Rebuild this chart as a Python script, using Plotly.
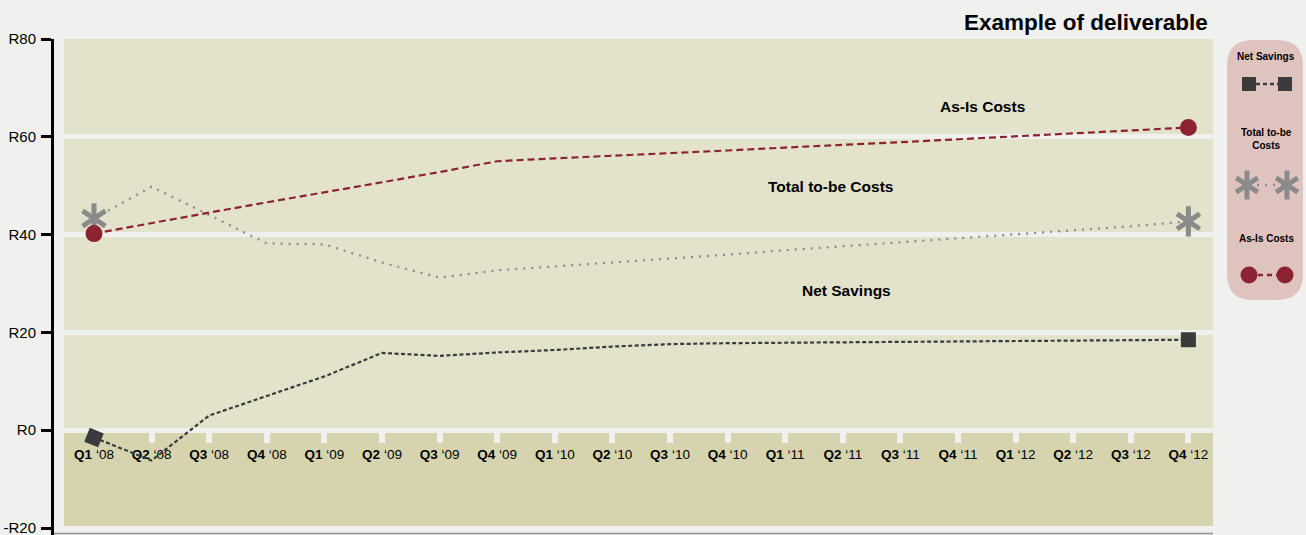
import plotly.graph_objects as go

# ---------------- data ----------------
quarters = ["Q1 '08", "Q2 '08", "Q3 '08", "Q4 '08", "Q1 '09", "Q2 '09", "Q3 '09", "Q4 '09",
            "Q1 '10", "Q2 '10", "Q3 '10", "Q4 '10", "Q1 '11", "Q2 '11", "Q3 '11", "Q4 '11",
            "Q1 '12", "Q2 '12", "Q3 '12", "Q4 '12"]
quarter_num = ["Q1", "Q2", "Q3", "Q4", "Q1", "Q2", "Q3", "Q4",
               "Q1", "Q2", "Q3", "Q4", "Q1", "Q2", "Q3", "Q4",
               "Q1", "Q2", "Q3", "Q4"]
quarter_year = ["08", "08", "08", "08", "09", "09", "09", "09",
                "10", "10", "10", "10", "11", "11", "11", "11",
                "12", "12", "12", "12"]

net_savings = [-1.5, -6.2, 3.0, 7.0, 11.0, 15.8, 15.2, 15.9,
               16.4, 17.1, 17.6, 17.8, 17.9, 18.0, 18.0, 18.1,
               18.2, 18.3, 18.4, 18.5]
total_to_be = [43.3, 49.8, 44.0, 38.2, 38.0, 34.3, 31.2, 32.7,
               33.5, 34.3, 35.0, 35.9, 36.8, 37.6, 38.4, 39.2,
               40.0, 40.9, 41.7, 42.7]
as_is = [40.2, 42.4, 44.5, 46.6, 48.6, 50.7, 52.8, 55.0,
         55.6, 56.1, 56.7, 57.2, 57.8, 58.3, 58.9, 59.5,
         60.1, 60.7, 61.3, 61.9]

y_ticks = [-20, 0, 20, 40, 60, 80]
y_tick_labels = ["-R20", "R0", "R20", "R40", "R60", "R80"]

# ---------------- style ----------------
FONT = "Liberation Sans, Arial, Helvetica, sans-serif"
PAGE_BG = "#f0f1ef"
BAND_LIGHT = "#e3e3cb"
BAND_DARK = "#d5d4ae"
LEGEND_BG = "#dfc3bf"
RED = "#8b2331"
DARK = "#3b3b3e"
GRAY = "#8a8a8a"

W, H = 1306, 535
ML, MR, MT, MB = 54, 0, 39, 0
plot_w = W - ML - MR
plot_h = H - MT - MB
main_right_px = 1213
x_domain_end = (main_right_px - ML) / plot_w

PX_PER_UNIT = 4.89
Y_MAX = 80.0
Y_MIN = Y_MAX - plot_h / PX_PER_UNIT

# pixel helpers for the legend subplot (non-data decoration)
def px_to_paper_x(px):
    return (px - ML) / plot_w

def px_to_paper_y(py):
    return (H - MB - py) / plot_h

tick_text = [f"<b>{q}</b> \u2018{y}" for q, y in zip(quarter_num, quarter_year)]
idx = list(range(len(quarters)))

fig = go.Figure()

# Net Savings
fig.add_trace(go.Scatter(
    x=idx, y=net_savings, mode="lines",
    line=dict(color=DARK, width=2.2, dash="4px,2.5px"),
    hoverinfo="skip", showlegend=False))
fig.add_trace(go.Scatter(
    x=[idx[0], idx[-1]], y=[net_savings[0], net_savings[-1]], mode="markers",
    marker=dict(symbol="square", size=15, color=DARK, angle=[22, 0],
                line=dict(width=0)),
    hoverinfo="skip", showlegend=False))

# Total to-be Costs
fig.add_trace(go.Scatter(
    x=idx, y=total_to_be, mode="lines",
    line=dict(color=GRAY, width=2.2, dash="2px,6px"),
    hoverinfo="skip", showlegend=False))
for sym in ["y-up-open", "y-down-open"]:
    fig.add_trace(go.Scatter(
        x=[idx[0], idx[-1]], y=[total_to_be[0], total_to_be[-1]], mode="markers",
        marker=dict(symbol=sym, size=19, color=GRAY,
                    line=dict(color=GRAY, width=5)),
        hoverinfo="skip", showlegend=False))

# As-Is Costs
fig.add_trace(go.Scatter(
    x=idx, y=as_is, mode="lines",
    line=dict(color=RED, width=2.2, dash="7px,4px"),
    hoverinfo="skip", showlegend=False))
fig.add_trace(go.Scatter(
    x=[idx[0], idx[-1]], y=[as_is[0], as_is[-1]], mode="markers",
    marker=dict(symbol="circle", size=17, color=RED, line=dict(width=0)),
    hoverinfo="skip", showlegend=False))

# ---------------- custom legend (glyphs on a small helper subplot) ----------------
leg_rows = [
    ("Net Savings", 84, dict(symbol="square", size=14, color=DARK), DARK, "4px,3px"),
    ("Total to-be Costs", 185, None, GRAY, "2px,6px"),
    ("As-Is Costs", 275, dict(symbol="circle", size=17, color=RED), RED, "5px,4px"),
]
leg_y0_px, leg_y1_px = 40, 300
leg_x0_px, leg_x1_px = 1227, 1303
glyph_left, glyph_right = 1249, 1285

def leg_y(py):
    return (leg_y1_px - py) / (leg_y1_px - leg_y0_px)

def leg_x(px):
    return (px - leg_x0_px) / (leg_x1_px - leg_x0_px)

for name, gy, mk, lc, dash in leg_rows:
    xs = [leg_x(glyph_left), leg_x(glyph_right)]
    ys = [leg_y(gy), leg_y(gy)]
    fig.add_trace(go.Scatter(x=xs, y=ys, mode="lines", xaxis="x2", yaxis="y2",
                             line=dict(color=lc, width=2.4, dash=dash),
                             hoverinfo="skip", showlegend=False))
    if mk is not None:
        fig.add_trace(go.Scatter(x=xs, y=ys, mode="markers", xaxis="x2", yaxis="y2",
                                 marker=dict(mk, line=dict(width=0)),
                                 hoverinfo="skip", showlegend=False))
    else:
        for sym in ["y-up-open", "y-down-open"]:
            fig.add_trace(go.Scatter(
                x=[leg_x(1247), leg_x(1287)], y=ys, mode="markers", xaxis="x2", yaxis="y2",
                marker=dict(symbol=sym, size=18, color=GRAY, line=dict(color=GRAY, width=5)),
                hoverinfo="skip", showlegend=False))

# ---------------- shapes ----------------
shapes = [
    dict(type="rect", xref="paper", yref="y", layer="below",
         x0=10 / plot_w, x1=x_domain_end, y0=0, y1=80,
         fillcolor=BAND_LIGHT, line=dict(width=0)),
    dict(type="rect", xref="paper", yref="y", layer="below",
         x0=10 / plot_w, x1=x_domain_end, y0=-20, y1=0,
         fillcolor=BAND_DARK, line=dict(width=0)),
    dict(type="line", xref="paper", yref="paper", layer="above",
         x0=0, x1=x_domain_end, y0=px_to_paper_y(533.5), y1=px_to_paper_y(533.5),
         line=dict(color="#8e8e8e", width=1.5)),
]
# rounded legend box
r = 26
lx0, lx1 = px_to_paper_x(leg_x0_px), px_to_paper_x(leg_x1_px)
ly_top, ly_bot = px_to_paper_y(leg_y0_px), px_to_paper_y(leg_y1_px)
rx = r / plot_w
ry = r / plot_h
path = (f"M {lx0+rx},{ly_top} L {lx1-rx},{ly_top} Q {lx1},{ly_top} {lx1},{ly_top-ry} "
        f"L {lx1},{ly_bot+ry} Q {lx1},{ly_bot} {lx1-rx},{ly_bot} "
        f"L {lx0+rx},{ly_bot} Q {lx0},{ly_bot} {lx0},{ly_bot+ry} "
        f"L {lx0},{ly_top-ry} Q {lx0},{ly_top} {lx0+rx},{ly_top} Z")
shapes.append(dict(type="path", path=path, xref="paper", yref="paper", layer="below",
                   fillcolor=LEGEND_BG, line=dict(width=0)))

# ---------------- annotations ----------------
ann = [
    dict(text="<b>Example of deliverable</b>", xref="paper", yref="paper",
         x=px_to_paper_x(1210), y=px_to_paper_y(22), xanchor="right", yanchor="middle",
         showarrow=False, font=dict(family=FONT, size=22.5, color="#000")),
    dict(text="<b>As-Is Costs</b>", xref="x", yref="y", x=15.43, y=66.1,
         xanchor="center", yanchor="middle",
         showarrow=False, font=dict(family=FONT, size=15.5, color="#000")),
    dict(text="<b>Total to-be Costs</b>", xref="x", yref="y", x=12.78, y=49.9,
         xanchor="center", yanchor="middle",
         showarrow=False, font=dict(family=FONT, size=15.5, color="#000")),
    dict(text="<b>Net Savings</b>", xref="x", yref="y", x=13.06, y=28.5,
         xanchor="center", yanchor="middle",
         showarrow=False, font=dict(family=FONT, size=15.5, color="#000")),
    dict(text="<b>Net Savings</b>", xref="paper", yref="paper",
         x=px_to_paper_x(1266), y=px_to_paper_y(57), showarrow=False,
         xanchor="center", yanchor="middle", font=dict(family=FONT, size=10, color="#000")),
    dict(text="<b>Total to-be<br>Costs</b>", xref="paper", yref="paper",
         x=px_to_paper_x(1266), y=px_to_paper_y(139), showarrow=False,
         xanchor="center", yanchor="middle", font=dict(family=FONT, size=10, color="#000")),
    dict(text="<b>As-Is Costs</b>", xref="paper", yref="paper",
         x=px_to_paper_x(1266), y=px_to_paper_y(238), showarrow=False,
         xanchor="center", yanchor="middle", font=dict(family=FONT, size=10, color="#000")),
]

x_pad_left = (94 - ML) / 57.6
x_range = [-x_pad_left, -x_pad_left + (main_right_px - ML) / 57.6]

fig.update_layout(
    width=W, height=H,
    margin=dict(l=ML, r=MR, t=MT, b=MB, pad=0),
    paper_bgcolor=PAGE_BG, plot_bgcolor=PAGE_BG,
    font=dict(family=FONT, color="#000"),
    shapes=shapes, annotations=ann,
    xaxis=dict(domain=[0, x_domain_end], range=x_range, showgrid=False, zeroline=False,
               tickmode="array", tickvals=idx, ticktext=tick_text,
               anchor="free", position=(0 - Y_MIN) / (Y_MAX - Y_MIN),
               ticks="outside", ticklen=12, tickwidth=6, tickcolor=PAGE_BG,
               layer="below traces",
               showline=False, tickfont=dict(family=FONT, size=13.5, color="#000"),
               fixedrange=True),
    yaxis=dict(range=[Y_MIN, Y_MAX], tickmode="array", tickvals=y_ticks,
               ticktext=y_tick_labels, showgrid=True, gridcolor=PAGE_BG, gridwidth=5,
               zeroline=False, showline=True, linecolor="#000", linewidth=3,
               ticks="outside", ticklen=10, tickwidth=3, tickcolor="#000",
               ticklabelstandoff=2, ticklabeloverflow="allow",
               tickfont=dict(family=FONT, size=15, color="#000"), fixedrange=True),
    xaxis2=dict(domain=[px_to_paper_x(leg_x0_px), px_to_paper_x(leg_x1_px)],
                range=[0, 1], visible=False, anchor="y2", fixedrange=True),
    yaxis2=dict(domain=[px_to_paper_y(leg_y1_px), px_to_paper_y(leg_y0_px)],
                range=[0, 1], visible=False, anchor="x2", fixedrange=True),
)

fig.write_html("out.html", config={"displayModeBar": False},
               post_script="document.body.style.margin='0';document.body.style.overflow='hidden';document.body.style.background='" + PAGE_BG + "';")
